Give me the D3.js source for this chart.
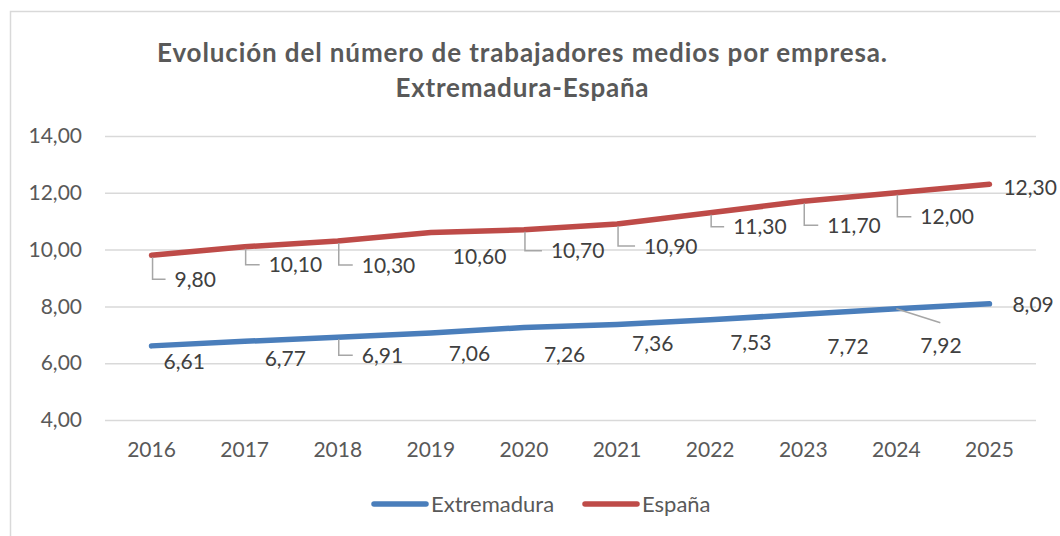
<!DOCTYPE html>
<html>
<head>
<meta charset="utf-8">
<script src="https://cdn.jsdelivr.net/npm/d3@7"></script>
<style>
  html, body { margin: 0; padding: 0; background: #fff; }
  svg { display: block; }
  text { font-family: Lato, "Open Sans", sans-serif; }
</style>
</head>
<body>
<svg id="chart" width="1060" height="536"></svg>
<script>
// ---- data ----
const years = ["2016","2017","2018","2019","2020","2021","2022","2023","2024","2025"];
const extremadura = [6.61, 6.77, 6.91, 7.06, 7.26, 7.36, 7.53, 7.72, 7.92, 8.09];
const espana = [9.80, 10.10, 10.30, 10.60, 10.70, 10.90, 11.30, 11.70, 12.00, 12.30];
const yTicks = [4, 6, 8, 10, 12, 14];
const titleLines = ["Evolución del número de trabajadores medios por empresa.", "Extremadura-España"];

// ---- label layout (pixel offsets relative to each point; leader: 0 none, 1 elbow, 2 diagonal) ----
const espLabelLayout = [
  {dx: 23, dy: 24, leader: 1}, {dx: 24, dy: 18, leader: 1}, {dx: 24, dy: 24, leader: 1},
  {dx: 22, dy: 24, leader: 0}, {dx: 27, dy: 21, leader: 1}, {dx: 27, dy: 22, leader: 1},
  {dx: 23, dy: 14, leader: 1}, {dx: 24, dy: 24, leader: 1}, {dx: 24, dy: 24, leader: 1},
  {dx: 14, dy: 3, leader: 0}
];
const extLabelLayout = [
  {dx: 12, dy: 16, leader: 0}, {dx: 20, dy: 17, leader: 0}, {dx: 24, dy: 18, leader: 1},
  {dx: 18, dy: 20, leader: 0}, {dx: 20, dy: 27, leader: 0}, {dx: 15, dy: 19, leader: 0},
  {dx: 20, dy: 23, leader: 0}, {dx: 24, dy: 32, leader: 0}, {dx: 24, dy: 37, leader: 2},
  {dx: 23, dy: 1, leader: 0}
];

const W = 1060, H = 536;
const plot = {left: 105, right: 1036, top: 136, bottom: 420};
const blue = "#4a7ebb", red = "#be4b48";
const axisColor = "#595959", labelColor = "#404040", gridColor = "#d9d9d9", leaderColor = "#a6a6a6";

const svg = d3.select("#chart");

// chart frame
svg.append("rect")
  .attr("x", 10.5).attr("y", 11.5)
  .attr("width", W + 20).attr("height", H + 20)
  .attr("fill", "#fff").attr("stroke", gridColor).attr("stroke-width", 1.5);

// title
const titleWidths = [730, 253];
svg.append("g").selectAll("text").data(titleLines).join("text")
  .attr("x", 522).attr("y", (d, i) => 62 + i * 35)
  .attr("text-anchor", "middle")
  .attr("font-size", 26).attr("font-weight", "bold")
  .attr("textLength", (d, i) => titleWidths[i])
  .attr("lengthAdjust", "spacing")
  .attr("fill", axisColor)
  .text(d => d);

// scales
const x = d3.scaleBand().domain(years).range([plot.left, plot.right]);
const y = d3.scaleLinear().domain([4, 14]).range([plot.bottom, plot.top]);
const cx = d => x(d) + x.bandwidth() / 2;

// gridlines + y axis
const yAxis = d3.axisLeft(y).tickValues(yTicks)
  .tickSize(-(plot.right - plot.left))
  .tickPadding(23)
  .tickFormat(d => d3.format(".2f")(d).replace(".", ","));
const gy = svg.append("g").attr("transform", `translate(${plot.left},0)`).call(yAxis);
gy.select(".domain").remove();
gy.selectAll(".tick line").attr("stroke", gridColor).attr("stroke-width", 1.5);
gy.selectAll(".tick text").attr("fill", axisColor).attr("font-size", 21)
  .attr("font-family", "Lato, sans-serif");

// x axis labels
const xAxis = d3.axisBottom(x).tickSize(0).tickPadding(22);
const gx = svg.append("g").attr("transform", `translate(0,${plot.bottom})`).call(xAxis);
gx.select(".domain").remove();
gx.selectAll(".tick text").attr("fill", axisColor).attr("font-size", 21)
  .attr("font-family", "Lato, sans-serif");

// lines
const line = d3.line().x((d, i) => cx(years[i])).y(d => y(d));
const series = [
  {name: "Extremadura", values: extremadura, color: blue, layout: extLabelLayout},
  {name: "España", values: espana, color: red, layout: espLabelLayout}
];

series.forEach(s => {
  svg.append("path").datum(s.values)
    .attr("d", line)
    .attr("fill", "none").attr("stroke", s.color)
    .attr("stroke-width", 5.5).attr("stroke-linecap", "round").attr("stroke-linejoin", "round");
});

// data labels with leader lines
series.forEach(s => {
  const g = svg.append("g");
  s.values.forEach((v, i) => {
    const px = cx(years[i]), py = y(v);
    const L = s.layout[i];
    const tx = px + L.dx, ty = py + L.dy;
    if (L.leader === 1) {
      g.append("path")
        .attr("d", `M${px + 1},${py + 2} L${px + 1},${ty} L${tx - 9},${ty}`)
        .attr("fill", "none").attr("stroke", leaderColor).attr("stroke-width", 1.5);
    } else if (L.leader === 2) {
      g.append("path")
        .attr("d", `M${px},${py} L${px + 44},${py + 14}`)
        .attr("fill", "none").attr("stroke", leaderColor).attr("stroke-width", 1.5);
    }
    g.append("text")
      .attr("x", tx).attr("y", ty)
      .attr("dy", "0.36em")
      .attr("font-size", 21).attr("fill", labelColor)
      .text(d3.format(".2f")(v).replace(".", ","));
  });
});

// legend
const legend = svg.append("g");
const legendItems = [
  {name: "Extremadura", color: blue, x: 374},
  {name: "España", color: red, x: 585}
];
legendItems.forEach(it => {
  legend.append("line")
    .attr("x1", it.x).attr("x2", it.x + 52)
    .attr("y1", 504).attr("y2", 504)
    .attr("stroke", it.color).attr("stroke-width", 5.5).attr("stroke-linecap", "round");
  legend.append("text")
    .attr("x", it.x + 57).attr("y", 504).attr("dy", "0.36em")
    .attr("font-size", 22).attr("fill", axisColor)
    .text(it.name);
});
</script>
</body>
</html>
